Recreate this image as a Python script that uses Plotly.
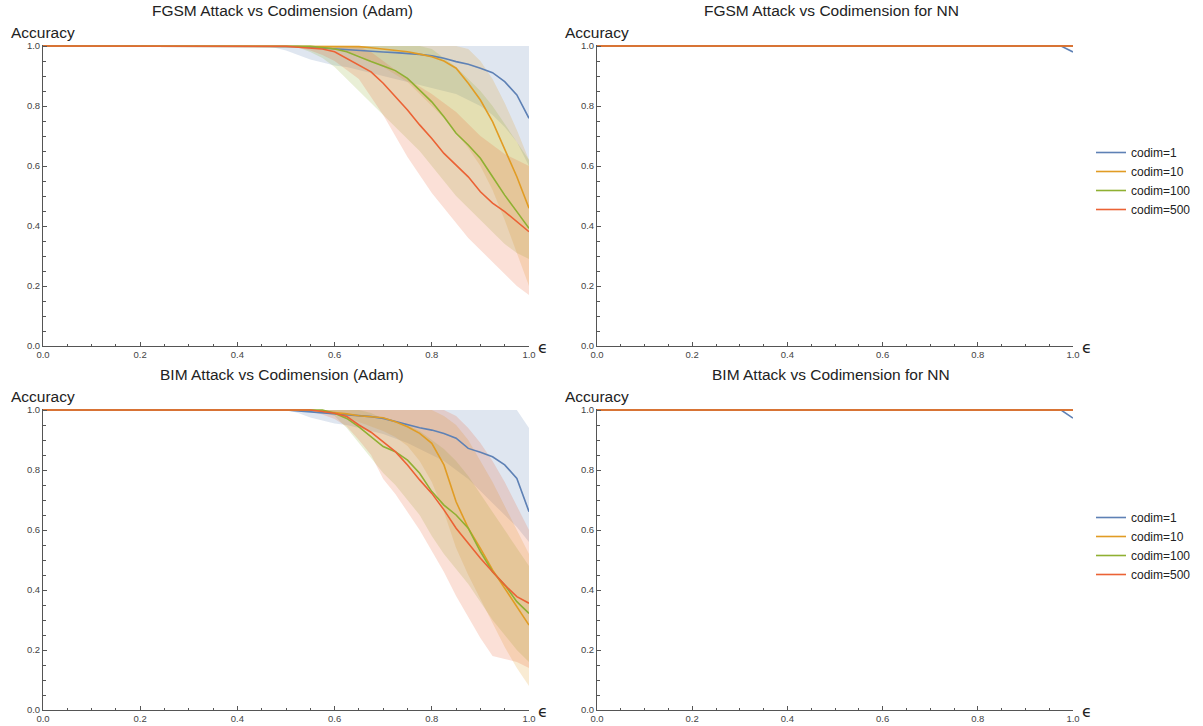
import plotly.graph_objects as go

# ---------------- data ----------------
series_names = ["codim=1", "codim=10", "codim=100", "codim=500"]
colors = ["#5E81B5", "#E19C24", "#8FB032", "#EB6235"]
fills = ["rgba(94,129,181,0.2)", "rgba(225,156,36,0.2)", "rgba(143,176,50,0.2)", "rgba(235,98,53,0.2)"]

eps = [0, 0.45, 0.475, 0.5, 0.525, 0.55, 0.575, 0.6, 0.625, 0.65, 0.675, 0.7,
       0.725, 0.75, 0.775, 0.8, 0.825, 0.85, 0.875, 0.9, 0.925, 0.95, 0.975, 1.0]

# FGSM attack, Adam
fgsm_mean_1 = [1, 1, 1, 1, .998, .996, .993, .99, .987, .984, .982, .98, .978, .976, .972, .967, .959, .948, .939, .926, .911, .881, .837, .759]
fgsm_mean_10 = [1, 1, 1, 1, 1, 1, 1, 1, .999, .998, .994, .99, .987, .981, .973, .964, .95, .926, .876, .82, .748, .653, .564, .459]
fgsm_mean_100 = [1, 1, 1, 1, 1, .999, .995, .99, .981, .964, .948, .933, .918, .892, .853, .814, .764, .709, .67, .626, .564, .503, .448, .392]
fgsm_mean_500 = [1, 1, 1, .999, .996, .992, .99, .981, .959, .937, .914, .876, .831, .787, .737, .692, .642, .603, .564, .514, .476, .448, .414, .381]

fgsm_lo_1 = [1, 1, .995, .985, .97, .955, .945, .935, .93, .92, .91, .9, .89, .88, .87, .86, .85, .84, .82, .8, .77, .73, .68, .6]
fgsm_hi_1 = [1, 1, 1, 1, 1, 1, 1, 1, 1, 1, 1, 1, 1, 1, 1, 1, 1, 1, 1, 1, 1, 1, 1, 1]
fgsm_lo_10 = [1, 1, 1, 1, 1, 1, .995, .99, .98, .97, .95, .93, .905, .88, .84, .8, .76, .71, .66, .6, .52, .42, .31, .2]
fgsm_hi_10 = [1, 1, 1, 1, 1, 1, 1, 1, 1, 1, 1, 1, 1, 1, 1, 1, 1, 1, .99, .95, .89, .81, .72, .62]
fgsm_lo_100 = [1, 1, 1, 1, .995, .98, .96, .93, .89, .85, .81, .77, .73, .69, .65, .6, .55, .5, .46, .42, .38, .34, .31, .29]
fgsm_hi_100 = [1, 1, 1, 1, 1, 1, 1, 1, 1, 1, 1, 1, 1, 1, 1, .99, .96, .93, .89, .85, .8, .74, .68, .62]
fgsm_lo_500 = [1, 1, 1, 1, .995, .985, .97, .95, .92, .89, .83, .77, .7, .63, .57, .51, .46, .41, .36, .32, .28, .24, .2, .17]
fgsm_hi_500 = [1, 1, 1, 1, 1, 1, 1, 1, 1, 1, .98, .95, .92, .89, .865, .84, .81, .78, .74, .7, .67, .64, .62, .6]

# BIM attack, Adam
bim_mean_1 = [1, 1, 1, 1, .997, .994, .991, .989, .986, .983, .978, .972, .961, .95, .941, .933, .922, .906, .872, .859, .844, .817, .772, .661]
bim_mean_10 = [1, 1, 1, 1, 1, 1, .996, .992, .987, .981, .977, .974, .961, .944, .922, .889, .817, .694, .606, .539, .467, .406, .344, .283]
bim_mean_100 = [1, 1, 1, 1, 1, 1, 1, .989, .972, .944, .911, .878, .861, .833, .789, .728, .683, .65, .606, .528, .461, .417, .361, .322]
bim_mean_500 = [1, 1, 1, 1, 1, 1, .995, .989, .978, .95, .926, .894, .861, .817, .767, .722, .667, .606, .556, .506, .461, .417, .378, .356]

bim_lo_1 = [1, 1, 1, 1, .99, .975, .965, .955, .95, .94, .93, .92, .905, .89, .87, .85, .83, .8, .77, .73, .69, .65, .61, .56]
bim_hi_1 = [1, 1, 1, 1, 1, 1, 1, 1, 1, 1, 1, 1, 1, 1, 1, 1, 1, 1, 1, 1, 1, 1, 1, .94]
bim_lo_10 = [1, 1, 1, 1, 1, 1, .995, .99, .975, .96, .945, .93, .91, .88, .83, .76, .66, .54, .45, .37, .29, .21, .14, .08]
bim_hi_10 = [1, 1, 1, 1, 1, 1, 1, 1, 1, 1, 1, 1, 1, 1, 1, 1, .98, .95, .9, .83, .76, .68, .6, .52]
bim_lo_100 = [1, 1, 1, 1, 1, 1, .995, .98, .94, .89, .84, .79, .75, .7, .65, .58, .52, .47, .42, .36, .3, .25, .2, .16]
bim_hi_100 = [1, 1, 1, 1, 1, 1, 1, 1, 1, 1, .99, .97, .96, .95, .93, .9, .87, .83, .78, .72, .66, .6, .54, .48]
bim_lo_500 = [1, 1, 1, 1, 1, .995, .985, .97, .945, .9, .85, .77, .72, .66, .6, .53, .46, .38, .31, .24, .18, .17, .16, .14]
bim_hi_500 = [1, 1, 1, 1, 1, 1, 1, 1, 1, 1, 1, 1, 1, 1, 1, 1, 1, .98, .94, .89, .83, .76, .68, .6]

# NN panels
nn_eps = [0, 0.975, 1.0]
nn_fgsm_1 = [1, 1, 0.98]
nn_fgsm_10 = [1, 1, 1]
nn_fgsm_100 = [1, 1, 1]
nn_fgsm_500 = [1, 1, 1]
nn_bim_1 = [1, 1, 0.973]
nn_bim_10 = [1, 1, 1]
nn_bim_100 = [1, 1, 1]
nn_bim_500 = [1, 1, 1]

titles = ["FGSM Attack vs Codimension (Adam)", "FGSM Attack vs Codimension for NN",
          "BIM Attack vs Codimension (Adam)", "BIM Attack vs Codimension for NN"]
tick_vals = [0, 0.2, 0.4, 0.6, 0.8, 1.0]
tick_text = ["0.0", "0.2", "0.4", "0.6", "0.8", "1.0"]
minor_vals = [0.05, 0.1, 0.15, 0.25, 0.3, 0.35, 0.45, 0.5, 0.55, 0.65, 0.7, 0.75, 0.85, 0.9, 0.95]

# ---------------- figure ----------------
W, H = 1203, 726
FONT = "Liberation Sans, Arial, sans-serif"
AX = "#555555"
TK = "#444444"


def pxx(x):
    return x / W


def pxy(y):
    return (H - y) / H


fig = go.Figure()

panels = [
    ("x", "y", eps, [fgsm_mean_1, fgsm_mean_10, fgsm_mean_100, fgsm_mean_500],
     [(fgsm_lo_1, fgsm_hi_1), (fgsm_lo_10, fgsm_hi_10), (fgsm_lo_100, fgsm_hi_100), (fgsm_lo_500, fgsm_hi_500)], None),
    ("x2", "y2", nn_eps, [nn_fgsm_1, nn_fgsm_10, nn_fgsm_100, nn_fgsm_500], None, "legend"),
    ("x3", "y3", eps, [bim_mean_1, bim_mean_10, bim_mean_100, bim_mean_500],
     [(bim_lo_1, bim_hi_1), (bim_lo_10, bim_hi_10), (bim_lo_100, bim_hi_100), (bim_lo_500, bim_hi_500)], None),
    ("x4", "y4", nn_eps, [nn_bim_1, nn_bim_10, nn_bim_100, nn_bim_500], None, "legend2"),
]

for xa, ya, xs, means, bands, leg in panels:
    if bands:
        for i, (lo, hi) in enumerate(bands):
            fig.add_trace(go.Scatter(
                x=list(xs) + list(xs)[::-1], y=list(hi) + list(lo)[::-1],
                fill="toself", fillcolor=fills[i], line=dict(width=0), mode="lines",
                hoverinfo="skip", showlegend=False, xaxis=xa, yaxis=ya))
    for i, m in enumerate(means):
        kw = dict(showlegend=False)
        if leg:
            kw = dict(showlegend=True, legend=leg)
        fig.add_trace(go.Scatter(
            x=xs, y=m, mode="lines", name=series_names[i],
            line=dict(color=colors[i], width=1.6), xaxis=xa, yaxis=ya, **kw))


def axis(dom, anchor, rng):
    return dict(domain=dom, anchor=anchor, range=rng, showline=True, linecolor=AX, linewidth=1,
                ticks="inside", ticklen=4, tickcolor=AX, tickwidth=1,
                tickvals=tick_vals, ticktext=tick_text,
                tickfont=dict(size=9.5, color=TK, family=FONT),
                minor=dict(tickvals=minor_vals, ticks="inside", ticklen=2.5, tickcolor=AX),
                showgrid=False, zeroline=False, fixedrange=True, automargin=False)


xl = [pxx(43), pxx(529)]
xr = [pxx(597), pxx(1073)]
yt = [pxy(346), pxy(44.5)]
yb = [pxy(710), pxy(408.5)]

annotations = []
layouts = [
    (43, 529, 346, 11),
    (597, 1073, 346, 11),
    (43, 529, 710, 375),
    (597, 1073, 710, 375),
]
for k, (x0, x1, ybot, ytitle) in enumerate(layouts):
    annotations.append(dict(text=titles[k], x=pxx((x0 + x1) / 2 - 4), y=pxy(ytitle), xref="paper", yref="paper",
                            showarrow=False, xanchor="center", yanchor="middle",
                            font=dict(size=15.5, color="#222222", family=FONT)))
    annotations.append(dict(text="Accuracy", x=pxx(x0 - 34), y=pxy(ybot - 313), xref="paper", yref="paper",
                            showarrow=False, xanchor="left", yanchor="middle",
                            font=dict(size=15.5, color="#222222", family=FONT)))
    annotations.append(dict(text="ϵ", x=pxx(x1 + 7), y=pxy(ybot + 1), xref="paper", yref="paper",
                            showarrow=False, xanchor="left", yanchor="middle",
                            font=dict(size=16, color="#222222", family="DejaVu Sans, " + FONT)))

leg_common = dict(xanchor="left", yanchor="middle", bgcolor="rgba(0,0,0,0)", borderwidth=0,
                  font=dict(size=12, color="#222222", family=FONT), tracegroupgap=0)

fig.update_layout(
    width=W, height=H, margin=dict(l=0, r=0, t=0, b=0, pad=0, autoexpand=False),
    paper_bgcolor="white", plot_bgcolor="white",
    font=dict(family=FONT),
    xaxis=axis(xl, "y", [0, 1]), yaxis=axis(yt, "x", [0, 1.005]),
    xaxis2=axis(xr, "y2", [0, 1]), yaxis2=axis(yt, "x2", [0, 1.005]),
    xaxis3=axis(xl, "y3", [0, 1]), yaxis3=axis(yb, "x3", [0, 1.005]),
    xaxis4=axis(xr, "y4", [0, 1]), yaxis4=axis(yb, "x4", [0, 1.005]),
    legend=dict(x=pxx(1091), y=pxy(181), **leg_common),
    legend2=dict(x=pxx(1091), y=pxy(546), **leg_common),
    annotations=annotations,
)

# remove the browser's default 8px page margin so the figure fills the window exactly
fig.write_html("out.html", config={"displayModeBar": False},
               post_script="document.body.style.margin='0';document.body.style.overflow='hidden';")
